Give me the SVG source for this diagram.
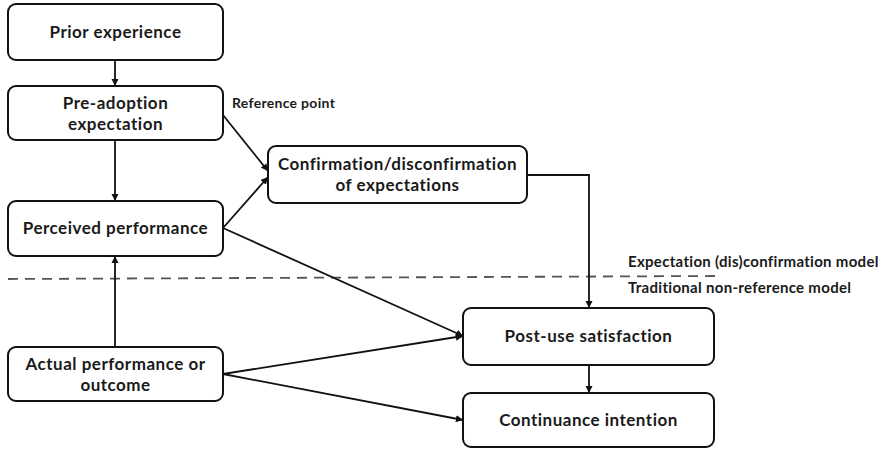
<svg xmlns="http://www.w3.org/2000/svg" width="884" height="450" viewBox="0 0 884 450">
  <style>
    .box { fill: #ffffff; stroke: #111111; stroke-width: 2; }
    .lbl { font-family: Lato, "Noto Sans", sans-serif; font-weight: bold; font-size: 17px; letter-spacing: 0.5px; fill: #1a1a1a; text-anchor: middle; }
    .note { font-family: Lato, "Noto Sans", sans-serif; font-weight: bold; font-size: 15px; letter-spacing: 0.3px; fill: #1a1a1a; }
    .edge { fill: none; stroke: #111111; stroke-width: 1.8; marker-end: url(#arrow); }
    .divider { stroke: #555555; stroke-width: 1.8; stroke-dasharray: 10 7; fill: none; }
  </style>
  <defs>
    <marker id="arrow" viewBox="0 0 10 10" refX="10" refY="5" markerWidth="4" markerHeight="4" orient="auto" markerUnits="strokeWidth">
      <path d="M0,0 L10,5 L0,10 z" fill="#111111"/>
    </marker>
  </defs>
  <rect width="884" height="450" fill="#ffffff"/>

  <!-- model boundary -->
  <line class="divider" x1="8" y1="279" x2="717" y2="276"/>
  <text class="note" x="628" y="267">Expectation (dis)confirmation model</text>
  <text class="note" x="628" y="293">Traditional non-reference model</text>
  <text class="note" x="232" y="108" style="font-size:14px">Reference point</text>

  <g id="connectors">
    <line class="edge" x1="115" y1="61" x2="115" y2="86"/>
    <line class="edge" x1="115" y1="141" x2="115" y2="201"/>
    <line class="edge" x1="115" y1="347" x2="115" y2="256"/>
    <line class="edge" x1="223" y1="115" x2="268" y2="171"/>
    <line class="edge" x1="223" y1="228" x2="268" y2="177"/>
    <line class="edge" x1="223" y1="228" x2="463" y2="336"/>
    <line class="edge" x1="223" y1="374" x2="463" y2="336"/>
    <line class="edge" x1="223" y1="374" x2="463" y2="420"/>
    <polyline class="edge" points="527,175 589,175 589,308"/>
    <line class="edge" x1="589" y1="365" x2="589" y2="393"/>
  </g>

  <g id="prior-experience">
    <rect class="box" x="8" y="4" width="215" height="56" rx="8"/>
    <text class="lbl" x="115.5" y="38">Prior experience</text>
  </g>
  <g id="pre-adoption-expectation">
    <rect class="box" x="8" y="86" width="215" height="54" rx="8"/>
    <text class="lbl" x="115.5" y="109">Pre-adoption</text>
    <text class="lbl" x="115.5" y="130">expectation</text>
  </g>
  <g id="perceived-performance">
    <rect class="box" x="8" y="201" width="215" height="55" rx="8"/>
    <text class="lbl" x="115.5" y="234">Perceived performance</text>
  </g>
  <g id="actual-performance">
    <rect class="box" x="8" y="347" width="215" height="54" rx="8"/>
    <text class="lbl" x="115.5" y="370">Actual performance or</text>
    <text class="lbl" x="115.5" y="391">outcome</text>
  </g>
  <g id="confirmation">
    <rect class="box" x="268" y="146" width="259" height="57" rx="8"/>
    <text class="lbl" x="397.5" y="170">Confirmation/disconfirmation</text>
    <text class="lbl" x="397.5" y="191">of expectations</text>
  </g>
  <g id="post-use-satisfaction">
    <rect class="box" x="463" y="308" width="251" height="57" rx="8"/>
    <text class="lbl" x="588.5" y="342">Post-use satisfaction</text>
  </g>
  <g id="continuance-intention">
    <rect class="box" x="463" y="393" width="251" height="54" rx="8"/>
    <text class="lbl" x="588.5" y="426">Continuance intention</text>
  </g>
</svg>
